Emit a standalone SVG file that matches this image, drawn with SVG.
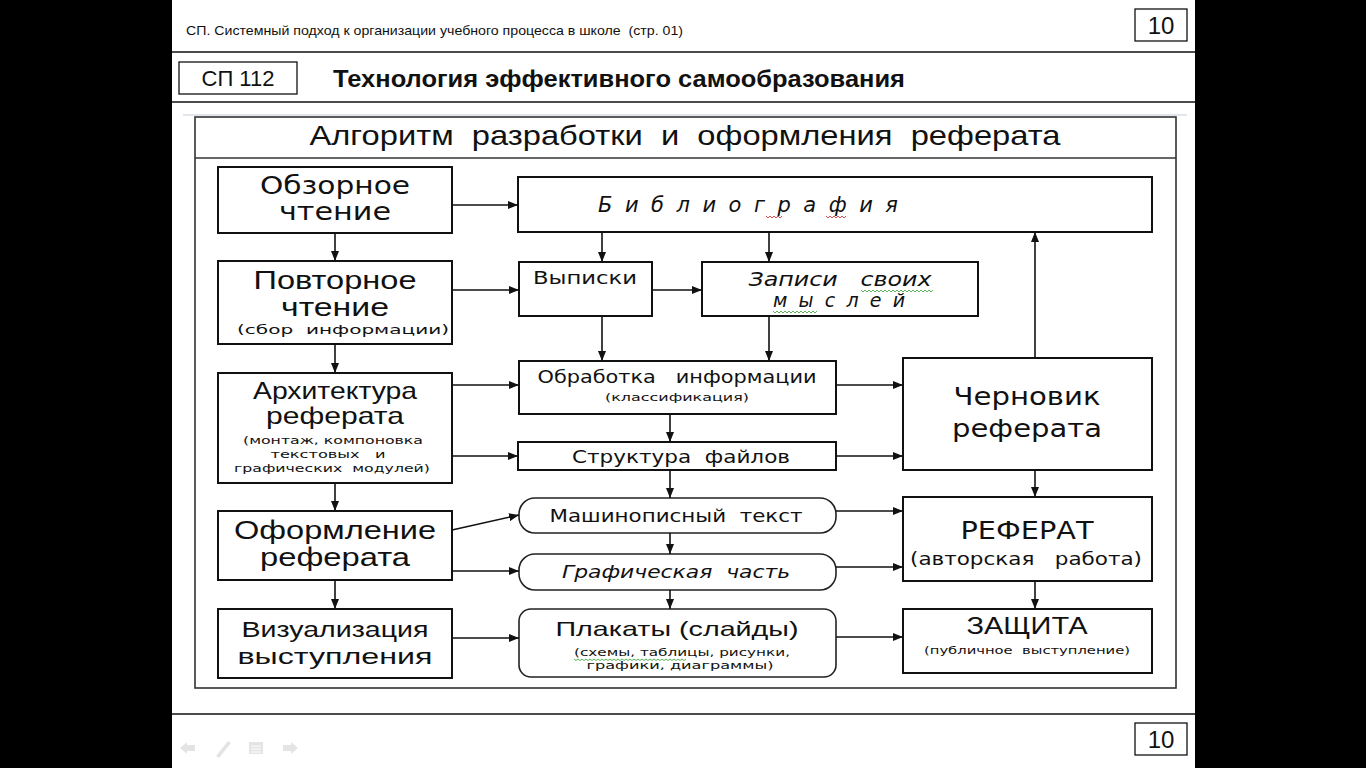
<svg xmlns="http://www.w3.org/2000/svg" width="1366" height="768" viewBox="0 0 1366 768">
<style>
.box{fill:#fff;stroke:#111;stroke-width:2}
.rbox{fill:#fff;stroke:#222;stroke-width:1.6}
.frame{fill:none;stroke:#333;stroke-width:1.6}
.hl{stroke:#111;stroke-width:1.5}
.con line,.con path{stroke:#111;stroke-width:1.6;fill:none;marker-end:url(#ah)}
.a{font-family:"Liberation Sans",Arial,sans-serif;fill:#111;text-anchor:middle}
.g{font-family:"DejaVu Sans","Liberation Sans",sans-serif;fill:#111;text-anchor:middle}
.sq{fill:none;stroke-width:0.8}
</style>
<defs>
<marker id="ah" viewBox="0 0 10 8" refX="10" refY="4" markerWidth="10" markerHeight="8" markerUnits="userSpaceOnUse" orient="auto">
<path d="M0,0 L10,4 L0,8 Z" fill="#111"/>
</marker>
</defs>
<rect x="0" y="0" width="1366" height="768" fill="#000"/>
<rect x="172" y="0" width="1023" height="768" fill="#fff"/>

<g id="header">
<text x="186" y="35" font-family="Liberation Sans,Arial,sans-serif" font-size="13" fill="#111" textLength="497" lengthAdjust="spacingAndGlyphs" xml:space="preserve">СП. Системный подход к организации учебного процесса в школе  (стр. 01)</text>
<rect x="1135" y="9" width="52" height="32" fill="#fff" stroke="#111" stroke-width="1.3"/>
<text class="a" x="1161" y="34" font-size="24">10</text>
<line class="hl" x1="172" y1="52" x2="1195" y2="52"/>
<rect x="179" y="62" width="118" height="32" fill="#fff" stroke="#111" stroke-width="1.3"/>
<text class="a" x="238" y="86" font-size="22">СП 112</text>
<text x="333" y="87" font-family="Liberation Sans,Arial,sans-serif" font-weight="bold" font-size="23" fill="#111" textLength="572" lengthAdjust="spacingAndGlyphs">Технология эффективного самообразования</text>
<line class="hl" x1="172" y1="102" x2="1195" y2="102"/>
</g>

<g id="footer">
<line class="hl" x1="172" y1="714" x2="1195" y2="714"/>
<rect x="1135" y="723" width="52" height="32" fill="#fff" stroke="#111" stroke-width="1.3"/>
<text class="a" x="1161" y="748" font-size="24">10</text>
<g fill="#e4e4e4">
<path d="M180,748 L187,742 L187,745 L195,745 L195,751 L187,751 L187,754 Z"/>
<path d="M216,756 L228,741 L231,743 L219,758 Z"/>
<rect x="249" y="742" width="14" height="12"/>
<path d="M298,748 L291,742 L291,745 L283,745 L283,751 L291,751 L291,754 Z"/>
</g>
<g stroke="#fff" stroke-width="1"><line x1="251" y1="746" x2="261" y2="746"/><line x1="251" y1="749" x2="261" y2="749"/><line x1="251" y1="752" x2="261" y2="752"/></g>
</g>

<g id="diagram-frame">
<line x1="183" y1="115" x2="1187" y2="115" stroke="#d8dde6" stroke-width="1.5"/>
<rect class="frame" x="195" y="117" width="981" height="571"/>
<line class="frame" x1="195" y1="158" x2="1176" y2="158"/>
<text class="a" x="685" y="145" font-size="28" fill="#222" textLength="751" lengthAdjust="spacingAndGlyphs" xml:space="preserve">Алгоритм  разработки  и  оформления  реферата</text>
</g>

<g id="n-obzor">
<rect class="box" x="218" y="167" width="234" height="66"/>
<text class="g" x="335" y="194" font-size="24" textLength="150" lengthAdjust="spacingAndGlyphs">Обзорное</text>
<text class="g" x="335" y="220" font-size="24" textLength="112" lengthAdjust="spacingAndGlyphs">чтение</text>
</g>
<g id="n-povtor">
<rect class="box" x="218" y="261" width="234" height="83"/>
<text class="a" x="335" y="289" font-size="25" textLength="163" lengthAdjust="spacingAndGlyphs">Повторное</text>
<text class="a" x="335" y="316" font-size="25" textLength="108" lengthAdjust="spacingAndGlyphs">чтение</text>
<text class="g" x="343" y="334" font-size="13" textLength="212" lengthAdjust="spacingAndGlyphs" xml:space="preserve">(сбор  информации)</text>
</g>
<g id="n-arch">
<rect class="box" x="218" y="373" width="234" height="110"/>
<text class="a" x="335" y="399" font-size="24" textLength="164" lengthAdjust="spacingAndGlyphs">Архитектура</text>
<text class="a" x="335" y="424" font-size="24" textLength="138" lengthAdjust="spacingAndGlyphs">реферата</text>
<text class="g" x="333" y="444" font-size="11" textLength="180" lengthAdjust="spacingAndGlyphs">(монтаж, компоновка</text>
<text class="g" x="328" y="458" font-size="11" textLength="115" lengthAdjust="spacingAndGlyphs" xml:space="preserve">текстовых   и</text>
<text class="g" x="332" y="472" font-size="11" textLength="196" lengthAdjust="spacingAndGlyphs" xml:space="preserve">графических  модулей)</text>
</g>
<g id="n-oform">
<rect class="box" x="218" y="511" width="234" height="69"/>
<text class="a" x="335" y="539" font-size="25" textLength="202" lengthAdjust="spacingAndGlyphs">Оформление</text>
<text class="a" x="335" y="566" font-size="25" textLength="150" lengthAdjust="spacingAndGlyphs">реферата</text>
</g>
<g id="n-vis">
<rect class="box" x="218" y="609" width="234" height="69"/>
<text class="a" x="335" y="637" font-size="22" textLength="187" lengthAdjust="spacingAndGlyphs">Визуализация</text>
<text class="a" x="335" y="664" font-size="22" textLength="195" lengthAdjust="spacingAndGlyphs">выступления</text>
</g>

<g id="n-biblio">
<rect class="box" x="518" y="177" width="634" height="55" stroke-width="1.6"/>
<text class="g" x="748" y="212" font-size="21" font-style="italic" fill="#555" textLength="300" lengthAdjust="spacing">Библиография</text>
<path class="sq" stroke="#d02020" d="M766,216 l2,2 l2,-2 l2,2 l2,-2 l2,2 l2,-2 l2,2 l2,-2 M826,216 l2,2 l2,-2 l2,2 l2,-2 l2,2 l2,-2 l2,2 l2,-2 l2,2 l2,-2"/>
</g>
<g id="n-vyp">
<rect class="box" x="519" y="262" width="133" height="54" stroke-width="1.6"/>
<text class="g" x="585" y="284" font-size="18" textLength="104" lengthAdjust="spacingAndGlyphs">Выписки</text>
</g>
<g id="n-zap">
<rect class="box" x="702" y="262" width="276" height="54" stroke-width="1.6"/>
<text class="g" x="840" y="286" font-size="19" font-style="italic" textLength="183" lengthAdjust="spacingAndGlyphs" xml:space="preserve">Записи   своих</text>
<text class="g" x="839" y="307" font-size="19" font-style="italic" textLength="132" lengthAdjust="spacing">мыслей</text>
<path class="sq" stroke="#30a030" d="M861,290 l2,2 l2,-2 l2,2 l2,-2 l2,2 l2,-2 l2,2 l2,-2 l2,2 l2,-2 l2,2 l2,-2 l2,2 l2,-2 l2,2 l2,-2 l2,2 l2,-2 l2,2 l2,-2 l2,2 l2,-2 l2,2 l2,-2 l2,2 l2,-2 l2,2 l2,-2 l2,2 l2,-2 l2,2 l2,-2 l2,2 l2,-2 l2,2 l2,-2 M773,311 l2,2 l2,-2 l2,2 l2,-2 l2,2 l2,-2 l2,2 l2,-2 l2,2 l2,-2 l2,2 l2,-2 l2,2 l2,-2 l2,2 l2,-2 l2,2 l2,-2 l2,2 l2,-2 l2,2 l2,-2"/>
</g>
<g id="n-obrab">
<rect class="box" x="519" y="361" width="317" height="53" stroke-width="1.6"/>
<text class="g" x="677" y="383" font-size="18" textLength="279" lengthAdjust="spacingAndGlyphs" xml:space="preserve">Обработка   информации</text>
<text class="g" x="677" y="401" font-size="11" textLength="144" lengthAdjust="spacingAndGlyphs">(классификация)</text>
</g>
<g id="n-struct">
<rect class="box" x="518" y="442" width="318" height="28" stroke-width="1.6"/>
<text class="g" x="681" y="463" font-size="18" textLength="218" lengthAdjust="spacingAndGlyphs" xml:space="preserve">Структура  файлов</text>
</g>
<g id="n-mash">
<rect class="rbox" x="519" y="498" width="317" height="35" rx="16"/>
<text class="g" x="676" y="522" font-size="17" fill="#333" textLength="253" lengthAdjust="spacingAndGlyphs" xml:space="preserve">Машинописный  текст</text>
</g>
<g id="n-graf">
<rect class="rbox" x="519" y="554" width="317" height="36" rx="16"/>
<text class="g" x="676" y="578" font-size="17" font-style="italic" fill="#333" textLength="228" lengthAdjust="spacingAndGlyphs" xml:space="preserve">Графическая  часть</text>
</g>
<g id="n-plak">
<rect class="rbox" x="519" y="609" width="317" height="68" rx="12"/>
<text class="a" x="677" y="636" font-size="21" textLength="243" lengthAdjust="spacingAndGlyphs">Плакаты (слайды)</text>
<text class="g" x="682" y="656" font-size="11" textLength="216" lengthAdjust="spacingAndGlyphs">(схемы, таблицы, рисунки,</text>
<text class="g" x="680" y="669" font-size="11" textLength="187" lengthAdjust="spacingAndGlyphs">графики, диаграммы)</text>
<path class="sq" stroke="#30a030" d="M574,659 l2,1.5 l2,-1.5 l2,1.5 l2,-1.5 l2,1.5 l2,-1.5 l2,1.5 l2,-1.5 l2,1.5 l2,-1.5 l2,1.5 l2,-1.5 l2,1.5 l2,-1.5 l2,1.5 l2,-1.5 l2,1.5 l2,-1.5 l2,1.5 l2,-1.5 l2,1.5 l2,-1.5 l2,1.5 l2,-1.5 l2,1.5 l2,-1.5 l2,1.5 l2,-1.5 l2,1.5 l2,-1.5 l2,1.5 l2,-1.5 l2,1.5 l2,-1.5 l2,1.5 l2,-1.5 l2,1.5 l2,-1.5 l2,1.5 l2,-1.5 l2,1.5 l2,-1.5 l2,1.5 l2,-1.5 l2,1.5 l2,-1.5 l2,1.5 l2,-1.5 l2,1.5 l2,-1.5 l2,1.5 l2,-1.5 l2,1.5 l2,-1.5 l2,1.5 l2,-1.5"/>
</g>

<g id="n-chern">
<rect class="box" x="903" y="358" width="249" height="112" stroke-width="1.6"/>
<text class="g" x="1027" y="405" font-size="25" textLength="147" lengthAdjust="spacingAndGlyphs">Черновик</text>
<text class="g" x="1027" y="437" font-size="25" textLength="150" lengthAdjust="spacingAndGlyphs">реферата</text>
</g>
<g id="n-ref">
<rect class="box" x="903" y="497" width="249" height="84" stroke-width="1.6"/>
<text class="g" x="1027" y="539" font-size="24" textLength="133" lengthAdjust="spacingAndGlyphs">РЕФЕРАТ</text>
<text class="g" x="1026" y="565" font-size="18" textLength="232" lengthAdjust="spacingAndGlyphs" xml:space="preserve">(авторская   работа)</text>
</g>
<g id="n-zash">
<rect class="box" x="903" y="609" width="249" height="64" stroke-width="1.6"/>
<text class="a" x="1027" y="634" font-size="24" textLength="121" lengthAdjust="spacingAndGlyphs">ЗАЩИТА</text>
<text class="g" x="1027" y="654" font-size="11" textLength="206" lengthAdjust="spacingAndGlyphs" xml:space="preserve">(публичное  выступление)</text>
</g>

<g id="connectors" class="con">
<line x1="452" y1="205" x2="518" y2="205"/>
<line x1="335" y1="233" x2="335" y2="261"/>
<line x1="452" y1="290" x2="519" y2="290"/>
<line x1="335" y1="344" x2="335" y2="373"/>
<line x1="452" y1="385" x2="519" y2="385"/>
<line x1="452" y1="456" x2="518" y2="456"/>
<line x1="335" y1="483" x2="335" y2="511"/>
<line x1="452" y1="530" x2="519" y2="515"/>
<line x1="452" y1="571" x2="519" y2="571"/>
<line x1="335" y1="580" x2="335" y2="609"/>
<line x1="452" y1="638" x2="519" y2="638"/>
<line x1="602" y1="232" x2="602" y2="262"/>
<line x1="769" y1="232" x2="769" y2="262"/>
<line x1="652" y1="290" x2="702" y2="290"/>
<line x1="602" y1="316" x2="602" y2="361"/>
<line x1="769" y1="316" x2="769" y2="361"/>
<line x1="836" y1="385" x2="903" y2="385"/>
<line x1="670" y1="414" x2="670" y2="442"/>
<line x1="836" y1="456" x2="903" y2="456"/>
<line x1="670" y1="470" x2="670" y2="498"/>
<line x1="670" y1="533" x2="670" y2="554"/>
<line x1="670" y1="590" x2="670" y2="609"/>
<line x1="836" y1="511" x2="903" y2="511"/>
<line x1="836" y1="567" x2="903" y2="567"/>
<line x1="836" y1="637" x2="903" y2="637"/>
<line x1="1035" y1="358" x2="1035" y2="232"/>
<line x1="1035" y1="470" x2="1035" y2="497"/>
<line x1="1035" y1="581" x2="1035" y2="609"/>
</g>
</svg>
